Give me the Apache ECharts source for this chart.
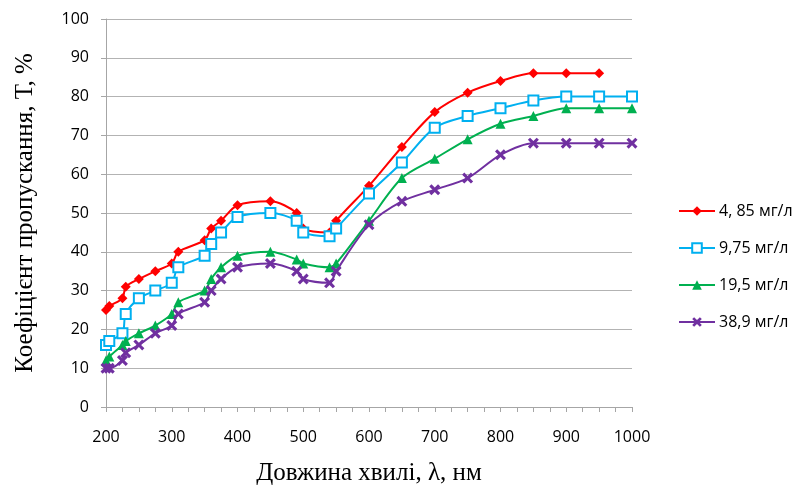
<!DOCTYPE html>
<html>
<head>
<meta charset="utf-8">
<script src="https://cdn.jsdelivr.net/npm/echarts@6/dist/echarts.min.js"></script>
<style>
  html, body { margin: 0; padding: 0; background: #fff; }
  #chart { width: 794px; height: 485px; }
</style>
</head>
<body>
<div id="chart"></div>
<script>
// довжини хвиль, нм
var wavelengths = [200, 205, 225, 230, 250, 275, 300, 310, 350, 360, 375, 400, 450, 490, 500, 540, 550, 600, 650, 700, 750, 800, 850, 900, 950, 1000];
// коефіцієнт пропускання, %
var t485 = [25, 26, 28, 31, 33, 35, 37, 40, 43, 46, 48, 52, 53, 50, 46, 45, 48, 57, 67, 76, 81, 84, 86, 86, 86, null];
var t975 = [16, 17, 19, 24, 28, 30, 32, 36, 39, 42, 45, 49, 50, 48, 45, 44, 46, 55, 63, 72, 75, 77, 79, 80, 80, 80];
var t195 = [12, 13, 16, 17, 19, 21, 24, 27, 30, 33, 36, 39, 40, 38, 37, 36, 37, 48, 59, 64, 69, 73, 75, 77, 77, 77];
var t389 = [10, 10, 12, 14, 16, 19, 21, 24, 27, 30, 33, 36, 37, 35, 33, 32, 35, 47, 53, 56, 59, 65, 68, 68, 68, 68];
var seriesNames = ['4, 85 мг/л', '9,75 мг/л', '19,5 мг/л', '38,9 мг/л'];

function pairs(vals) {
  var out = [];
  for (var i = 0; i < wavelengths.length; i++) {
    if (vals[i] != null) out.push([wavelengths[i], vals[i]]);
  }
  return out;
}

var crossPath = 'path://M0,2 L2,0 L5,3 L8,0 L10,2 L7,5 L10,8 L8,10 L5,7 L2,10 L0,8 L3,5 Z';

function line(name, vals, color, symbol, size, extra) {
  var s = {
    name: name,
    type: 'line',
    smooth: 0.3,
    data: pairs(vals),
    symbol: symbol,
    symbolSize: size,
    lineStyle: { color: color, width: 2 },
    itemStyle: { color: color }
  };
  if (extra) s.itemStyle = extra;
  return s;
}

var myChart = echarts.init(document.getElementById('chart'));
myChart.setOption({
  animation: false,
  textStyle: { fontFamily: 'Open Sans' },
  grid: { left: 106, right: 162, top: 19, bottom: 78, containLabel: false, outerBoundsMode: 'none' },
  legend: {
    orient: 'vertical',
    left: 673,
    top: 198,
    itemGap: 21,
    itemWidth: 36,
    itemHeight: 12,
    textStyle: { fontSize: 16, color: '#000', fontFamily: 'Open Sans', padding: [0, 0, 0, -1] },
    data: seriesNames
  },
  xAxis: {
    type: 'value',
    min: 200,
    max: 1000,
    interval: 100,
    name: 'Довжина хвилі, λ, нм',
    nameLocation: 'middle',
    nameGap: 54,
    nameTextStyle: { fontFamily: 'Liberation Serif', fontSize: 25, color: '#000' },
    axisLine: { lineStyle: { color: '#a6a6a6', width: 1 } },
    axisTick: { show: true, length: 5, lineStyle: { color: '#a6a6a6' } },
    minorTick: { show: true, splitNumber: 4, length: 5, lineStyle: { color: '#a6a6a6' } },
    splitLine: { show: false },
    axisLabel: { fontSize: 16, color: '#000', margin: 22, formatter: function (v) { return String(v); } }
  },
  yAxis: {
    type: 'value',
    min: 0,
    max: 100,
    interval: 10,
    name: 'Коефіцієнт пропускання, Т, %',
    nameLocation: 'middle',
    nameGap: 68,
    nameTextStyle: { fontFamily: 'Liberation Serif', fontSize: 25, color: '#000' },
    axisLine: { show: true, lineStyle: { color: '#a6a6a6', width: 1 } },
    axisTick: { show: true, length: 5, lineStyle: { color: '#a6a6a6' } },
    splitLine: { lineStyle: { color: '#b3b3b3', width: 1 } },
    axisLabel: { fontSize: 16, color: '#000', margin: 17 }
  },
  series: [
    line(seriesNames[0], t485, '#ff0000', 'diamond', 10),
    line(seriesNames[1], t975, '#00b0f0', 'rect', 10,
      { color: '#ffffff', borderColor: '#00b0f0', borderWidth: 2 }),
    line(seriesNames[2], t195, '#00b050', 'triangle', 10),
    line(seriesNames[3], t389, '#7030a0', crossPath, 11)
  ]
});
</script>
</body>
</html>
